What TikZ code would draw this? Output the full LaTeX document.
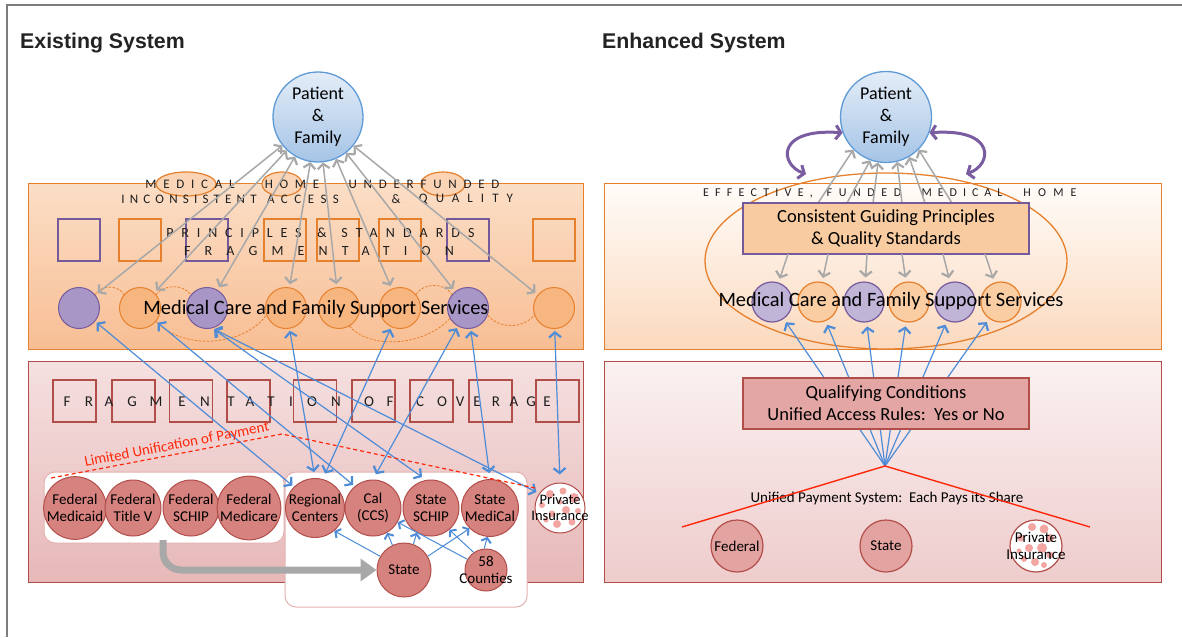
\documentclass[tikz,border=0pt]{standalone}
\usepackage{fontspec}
\setmainfont{Carlito}
\newfontfamily\titlefont{Liberation Sans}
\usetikzlibrary{arrows.meta,shapes.geometric,calc}
\newcommand\lsp[2]{{\addfontfeatures{LetterSpace=#1}#2}}
\newcommand\fsz[2]{\fontsize{#1}{#2}\selectfont}
\definecolor{bl}{RGB}{78,140,215}
\definecolor{gr}{RGB}{168,168,168}
\definecolor{orb}{RGB}{231,128,45}
\definecolor{orf}{RGB}{247,182,128}
\definecolor{orfR}{RGB}{250,205,162}
\definecolor{pub}{RGB}{117,90,155}
\definecolor{puf}{RGB}{168,150,198}
\definecolor{pufR}{RGB}{192,180,215}
\definecolor{pkb}{RGB}{178,78,74}
\definecolor{pkf}{RGB}{214,130,126}
\definecolor{pkfR}{RGB}{227,163,160}
\definecolor{pdot}{RGB}{243,165,162}
\definecolor{ptb}{RGB}{95,155,215}
\definecolor{ptt}{RGB}{228,237,248}
\definecolor{ptbo}{RGB}{165,196,230}
\definecolor{redl}{RGB}{255,40,10}
\definecolor{framec}{RGB}{125,125,125}
\definecolor{purc}{RGB}{122,92,160}
\definecolor{obT}{RGB}{251,222,198}
\definecolor{obB}{RGB}{248,190,148}
\definecolor{obTR}{RGB}{255,252,249}
\definecolor{obBR}{RGB}{251,217,190}
\definecolor{pbT}{RGB}{245,224,224}
\definecolor{pbB}{RGB}{231,184,184}
\definecolor{pbTR}{RGB}{251,241,241}
\definecolor{pbBR}{RGB}{238,204,204}
\definecolor{hlf}{RGB}{250,212,180}
\definecolor{gpf}{RGB}{249,203,160}
\definecolor{qbf}{RGB}{227,166,164}
\definecolor{wbb}{RGB}{228,178,178}
\definecolor{titc}{RGB}{35,35,35}
\definecolor{ltc}{RGB}{30,30,30}
\begin{document}
\begin{tikzpicture}[x=1pt,y=-1pt,
  patient/.style={circle,draw=ptb,line width=1.3pt,top color=ptt,bottom color=ptbo,minimum size=90pt,inner sep=0pt,align=center,font=\fsz{18}{22}},
  oband/.style={draw=orb,line width=1.3pt,top color=obT,bottom color=obB,inner sep=0pt,anchor=north west},
  obandR/.style={draw=orb,line width=1.3pt,top color=obTR,bottom color=obBR,inner sep=0pt,anchor=north west},
  pband/.style={draw=pkb,line width=1.3pt,top color=pbT,bottom color=pbB,inner sep=0pt,anchor=north west},
  pbandR/.style={draw=pkb,line width=1.3pt,top color=pbTR,bottom color=pbBR,inner sep=0pt,anchor=north west},
  sqP/.style={draw=pub,line width=1.2pt,minimum size=42pt,inner sep=0pt},
  sqO/.style={draw=orb,line width=1.2pt,minimum size=42pt,inner sep=0pt},
  sqK/.style={draw=pkb,line width=1.1pt,minimum width=43pt,minimum height=42pt,inner sep=0pt},
  svcP/.style={circle,draw=pub,fill=puf,line width=1pt,minimum size=41pt,inner sep=0pt},
  svcO/.style={circle,draw=orb,fill=orf,line width=1pt,minimum size=41pt,inner sep=0pt},
  svcPR/.style={circle,draw=pub,fill=pufR,line width=1.2pt,minimum size=40pt,inner sep=0pt},
  svcOR/.style={circle,draw=orb,fill=orfR,line width=1.2pt,minimum size=40pt,inner sep=0pt},
  fund/.style={circle,draw=pkb,fill=pkf,line width=1pt,minimum size=56pt,inner sep=0pt,align=center,font=\fsz{15}{17}},
  fundR/.style={circle,draw=pkb,fill=pkfR,line width=1.2pt,minimum size=52pt,inner sep=0pt,align=center,font=\fsz{15}{17}},
  priv/.style={circle,draw=pkb,fill=white,line width=1pt,inner sep=0pt,align=center,font=\fsz{14.5}{16}},
  hlell/.style={ellipse,draw=orb,fill=hlf,line width=1.2pt,inner sep=0pt,minimum height=24pt},
  spA/.style={font=\fsz{13}{13},inner sep=0pt,text=ltc},
  spB/.style={font=\fsz{14}{14},inner sep=0pt,text=ltc},
  spC/.style={font=\fsz{15}{15},inner sep=0pt,text=ltc},
  spD/.style={font=\fsz{12}{12},inner sep=0pt,text=ltc},
  dsh/.style={draw=orb,line width=0.8pt,dash pattern=on 2.5pt off 1.5pt},
  garr/.style={draw=gr,line width=1.5pt,>={Straight Barb[length=5pt,width=12pt,line width=2.2pt]}},
  barr/.style={draw=bl,line width=1.2pt,>={Straight Barb[length=5pt,width=12pt,line width=2.2pt]}},
  sarr/.style={draw=bl,line width=1pt,>={Straight Barb[length=4pt,width=10pt,line width=2pt]}},
  parr/.style={draw=purc,line width=3pt,>={Straight Barb[length=5pt,width=14pt,line width=3pt]}},
  wbox/.style={draw=wbb,fill=white,line width=1pt,rounded corners=11pt,inner sep=0pt}
]
\fill[white] (0,0) rectangle (1182,637);
\useasboundingbox (0,0) rectangle (1182,637);
\draw[framec,line width=1.5pt] (7,637) -- (7,5) -- (1182,5);

% titles
\node[anchor=base west,font=\titlefont\bfseries\fsz{21.3}{25},text=titc,inner sep=0pt] (t1) at (20,48) {Existing System};
\node[anchor=base west,font=\titlefont\bfseries\fsz{21.3}{25},text=titc,inner sep=0pt] (t2) at (602,48) {Enhanced System};

% ================= LEFT: EXISTING =================
\node[oband,minimum width=555pt,minimum height=166pt] (obL) at (28,183) {};
\node[pband,minimum width=555pt,minimum height=221pt] (pbL) at (28,361) {};

\foreach \n/\x/\s in {1/79/sqP,2/140/sqO,3/207/sqP,4/285/sqO,5/338/sqO,6/400/sqO,7/468/sqP,8/554/sqO}
  \node[\s] (q\n) at (\x,240) {};

\node[hlell,minimum width=60pt] (e1) at (186,184) {};
\node[hlell,minimum width=40pt] (e2) at (282,184) {};
\node[hlell,minimum width=44pt] (e3) at (443,184) {};

\node[spA] (wa1) at (190,184) {\lsp{52}{MEDICAL}};
\node[spA] (wa2) at (292,184) {\lsp{52}{HOME}};
\node[spA] (wa3) at (424,184) {\lsp{52}{UNDERFUNDED}};
\node[spA] (wb1) at (189,199) {\lsp{40}{INCONSISTENT}};
\node[spA] (wb2) at (303,199) {\lsp{50}{ACCESS}};
\node[spA] (wb3) at (396,199) {\&};
\node[spA] (wb4) at (466,199) {\lsp{62}{QUALITY}};
\node[spB] (wc1) at (234,233) {\lsp{56}{PRINCIPLES}};
\node[spB] (wc2) at (322,233) {\&};
\node[spB] (wc3) at (408,233) {\lsp{58}{STANDARDS}};
\node[spB] (wd1) at (319,251) {\lsp{101}{FRAGMENTATION}};

\foreach \n/\x/\s in {1/79/svcP,2/140/svcO,3/207/svcP,4/286/svcO,5/339/svcO,6/400/svcO,7/468/svcP,8/554/svcO}
  \node[\s] (s\n) at (\x,308) {};

\draw[dsh] (s1.40) to[bend left=60] (s2.140);
\draw[dsh] (s2.40) to[bend left=50] (s3.140);
\draw[dsh] (s2.-40) .. controls (185,352) and (245,345) .. (s4.-160);
\draw[dsh] (s5.-60) .. controls (370,350) and (425,346) .. (s7.-150);
\draw[dsh] (s6.40) to[bend left=60] (s7.140);
\draw[dsh] (s7.-20) to[bend right=50] (s8.-160);

\node[font=\fsz{20.4}{24},inner sep=0pt] (mcL) at (316,309) {Medical Care and Family Support Services};

\node[patient] (pL) at (318,117) {Patient\\\&\\Family};
\foreach \n in {1,...,8}
  \draw[garr,<->,shorten >=3pt] (pL) -- (s\n);

% pink band content
\foreach \n/\x in {1/74.5,2/133.5,3/191,4/248.5,5/315,6/373.5,7/431.5,8/490.5,9/557.5}
  \node[sqK] (k\n) at (\x,401) {};
\foreach \ch/\x [count=\i] in {F/67,R/89,A/109,G/132,M/156,E/182,N/205,T/231,A/250,T/271,I/291,O/312,N/336,O/369,F/390,C/420,O/442,V/460,E/477,R/496,A/514,G/531,E/547}
  \node[spC] (fl\i) at (\x,402) {\ch};

\node[wbox,minimum width=240pt,minimum height=71pt] (wb1) at (164,507.5) {};
\node[wbox,minimum width=242pt,minimum height=135pt] (wb2) at (406,539.5) {};

\node[fund] (fm) at (75,508) {Federal\\Medicaid};
\node[fund] (ft) at (133,508) {Federal\\Title V};
\node[fund] (fsc) at (191,508) {Federal\\SCHIP};
\node[fund] (fmc) at (249,508) {Federal\\Medicare};
\node[fund] (rc) at (315,508) {Regional\\Centers};
\node[fund] (cal) at (373,508) {Cal\\(CCS)};
\node[fund] (ssc) at (431,508) {State\\SCHIP};
\node[fund] (smc) at (490,508) {State\\MediCal};
\node[fund,minimum size=54pt] (st) at (404,570) {State};
\node[priv,minimum size=50pt] (pi) at (560,508) {};
\foreach \dx/\dy/\r in {-10/-14/4,3/-17/3.5,14/-10/5,-18/-3/3,18/3/3,-8/6/3.5,6/2/4,12/14/3.5,-3/16/4,-14/12/2.5,0/-6/2.5}
  \fill[pdot] ($(pi)+(\dx,\dy)$) circle (\r);
\node[font=\fsz{14.5}{16},align=center,inner sep=0pt] (pit) at (560,508) {Private\\Insurance};
\node[fund,minimum size=42pt] (cty) at (486,570) {};
\node[font=\fsz{15}{17},align=center,inner sep=0pt] (ctyt) at (486,570) {58\\Counties};

% gray thick arrow
\coordinate (ga) at (163,540);
\draw[gr,line width=7pt,rounded corners=18pt,-{Triangle[length=16pt,width=22pt]}] (ga) |- (st.west);

% inner state arrows
\draw[sarr,->] (st.150) -- (rc.-50);
\draw[sarr,->] (st.115) -- (cal.-60);
\draw[sarr,->] (st.70) -- (ssc.-120);
\draw[sarr,->] (st.30) -- (smc.-135);
\draw[sarr,->] (cty.150) -- (cal.-30);
\draw[sarr,->] (cty.125) -- (ssc.-50);
\draw[sarr,->] (cty.95) -- (smc.-95);

% blue long arrows
\draw[barr,<->,shorten <=2pt,shorten >=2pt] (s1) -- (rc.135);
\draw[barr,<->,shorten <=2pt,shorten >=2pt] (s2) -- (cal.130);
\draw[barr,<->,shorten <=2pt,shorten >=5pt] (s3.-75) -- (ssc.100);
\draw[barr,<->,shorten <=2pt,shorten >=3pt] (s3.-75) -- (pi.145);
\draw[barr,<->,shorten <=2pt,shorten >=6pt] (s4) -- (rc.90);
\draw[barr,<->,shorten <=2pt,shorten >=6pt] (s6) -- (rc.75);
\draw[barr,<->,shorten <=2pt,shorten >=6pt] (s7) -- (cal.90);
\draw[barr,<->,shorten <=2pt,shorten >=6pt] (s7) -- (smc.90);
\draw[barr,<->,shorten <=2pt,shorten >=8pt] (s8) -- (pi.90);

% limited unification
\coordinate (lu1) at (51,478);
\coordinate (lu2) at (282,434);
\coordinate (lu3) at (535,488);
\draw[redl,line width=1.2pt,dash pattern=on 4pt off 3pt] (lu1) -- (lu2) -- (lu3);
\node[text=redl,font=\fsz{15}{15},rotate=11,inner sep=0pt] (lut) at (177,445) {Limited Unification of Payment};

% ================= RIGHT: ENHANCED =================
\node[obandR,minimum width=557pt,minimum height=166pt] (obR) at (604,183) {};
\node[pbandR,minimum width=557pt,minimum height=221pt] (pbR) at (604,361) {};

\node[ellipse,draw=orb,line width=1.3pt,minimum width=362pt,minimum height=176pt,inner sep=0pt] (ell) at (886,261) {};

\node[spD] (we1) at (758,193) {\lsp{52}{EFFECTIVE,}};
\node[spD] (we2) at (864,193) {\lsp{55}{FUNDED}};
\node[spD] (we3) at (962,193) {\lsp{50}{MEDICAL}};
\node[spD] (we4) at (1050,193) {\lsp{60}{HOME}};

\node[patient,minimum size=91pt] (pR) at (886,117) {Patient\\\&\\Family};
\coordinate (pa1) at (806,174);
\coordinate (pa2) at (966,174);
\draw[parr,<->] (pR.200) .. controls (775,128) and (780,165) .. (pa1);
\draw[parr,<->] (pR.-20) .. controls (997,128) and (992,165) .. (pa2);

\foreach \n/\x/\a in {1/818/-135,2/847/-110,3/873/-100,4/902/-76,5/925/-60,6/952/-45}{
  \coordinate (u\n) at (\x,203);
  \draw[garr,->] (u\n) -- (pR.\a);
}

\node[draw=pub,fill=gpf,line width=1.3pt,minimum width=286pt,minimum height=51pt,inner sep=0pt,align=center,font=\fsz{18.5}{22}] (gp) at (886,228.5) {Consistent Guiding Principles\\\& Quality Standards};

\foreach \n/\x/\s in {1/772/svcPR,2/818/svcOR,3/864/svcPR,4/909/svcOR,5/955/svcPR,6/1001/svcOR}
  \node[\s] (r\n) at (\x,302) {};

\foreach \n/\x in {1/788,2/828,3/867,4/902,5/943,6/985}{
  \coordinate (d\n) at (\x,254);
  \draw[garr,->,shorten >=4pt] (d\n) -- (r\n);
}

\node[font=\fsz{20.4}{24},inner sep=0pt] (mcR) at (891,301) {Medical Care and Family Support Services};

\coordinate (cv) at (885,466);
\foreach \n in {1,...,6}
  \draw[barr,->,shorten >=4pt] (cv) -- (r\n);

\node[draw=pkb,fill=qbf,line width=1.3pt,minimum width=286pt,minimum height=51pt,inner sep=0pt,align=center,font=\fsz{18.5}{22}] (qb) at (886,403.5) {Qualifying Conditions\\Unified Access Rules:\ \ Yes or No};

\node[font=\fsz{15}{15},inner sep=0pt] (ups) at (887,498) {Unified Payment System:\ \ Each Pays its Share};
\coordinate (rl) at (682,527);
\coordinate (rr) at (1090,527);
\draw[redl,line width=1.4pt] (rl) -- (cv) -- (rr);

\node[fundR] (fedR) at (737,546) {Federal};
\node[fundR] (stR) at (886,546) {State};
\node[priv,minimum size=52pt,line width=1.2pt] (piR) at (1036,546) {};
\foreach \dx/\dy/\r in {-4/-19/4,8/-17/4.5,-15/-8/3.5,14/-8/4,-7/2/4,6/2/5,14/9/3.5,-12/13/3,-1/16/4,8/19/3,-17/5/2.5}
  \fill[pdot] ($(piR)+(\dx,\dy)$) circle (\r);
\node[font=\fsz{15}{17},align=center,inner sep=0pt] (pirt) at (1036,546) {Private\\Insurance};
\end{tikzpicture}
\end{document}
